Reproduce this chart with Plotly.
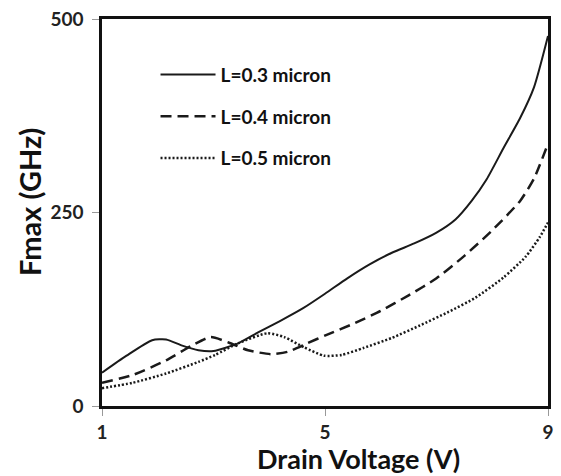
import plotly.graph_objects as go

# Data
voltage_03 = [1.0, 1.44, 1.9, 2.15, 2.44, 2.73, 3.0, 3.44, 3.8, 4.2, 4.6, 5.0, 5.4, 5.8, 6.2, 6.6, 7.0, 7.34, 7.63, 7.9, 8.2, 8.5, 8.75, 9.0]
fmax_03 = [43, 65, 85, 86, 78, 72, 71, 81, 95, 110, 126, 145, 165, 183, 198, 210, 224, 241, 265, 293, 333, 372, 412, 478]

voltage_04 = [1.0, 1.55, 2.15, 2.61, 2.95, 3.27, 3.62, 4.03, 4.33, 4.68, 5.03, 5.5, 6.0, 6.5, 7.0, 7.5, 8.0, 8.5, 8.75, 9.0]
fmax_04 = [30, 40, 59, 78, 89, 82, 72, 67, 70, 81, 92, 106, 123, 143, 165, 194, 227, 265, 294, 339]

voltage_05 = [1.0, 1.55, 2.15, 2.73, 3.03, 3.44, 3.97, 4.27, 4.62, 4.98, 5.3, 5.69, 6.2, 6.7, 7.2, 7.7, 8.2, 8.6, 8.85, 9.0]
fmax_05 = [23, 30, 42, 57, 66, 81, 94, 89, 76, 65, 66, 75, 88, 104, 121, 140, 166, 193, 218, 237]

labels = ["L=0.3 micron", "L=0.4 micron", "L=0.5 micron"]
x_ticks = [1, 5, 9]
y_ticks = [0, 250, 500]

FONT = "Lato, 'Open Sans', sans-serif"
INK = "#1a1a1a"

fig = go.Figure()
fig.add_trace(go.Scatter(x=voltage_03, y=fmax_03, mode="lines", name=labels[0], legendgroup="a",
                         line=dict(color=INK, width=2, shape="spline", smoothing=0.6)))
fig.add_trace(go.Scatter(x=voltage_04, y=fmax_04, mode="lines", name=labels[1], legendgroup="b",
                         line=dict(color=INK, width=2.5, dash="11px,6px", shape="spline", smoothing=0.6)))
fig.add_trace(go.Scatter(x=voltage_05, y=fmax_05, mode="lines", name=labels[2], legendgroup="c",
                         line=dict(color=INK, width=2.5, dash="2px,2px", shape="spline", smoothing=0.6)))

tickfont = dict(family=FONT, size=19, color="#222", weight="bold")

fig.update_layout(
    width=561, height=476,
    margin=dict(l=102, r=7, t=17, b=70),
    paper_bgcolor="white", plot_bgcolor="white",
    showlegend=True,
    legend=dict(x=0.12, y=0.905, xanchor="left", yanchor="top", bgcolor="rgba(0,0,0,0)",
                traceorder="grouped", tracegroupgap=14, itemwidth=55,
                font=dict(family=FONT, size=19, color="#111", weight="bold")),
    xaxis=dict(range=[1, 9], tickvals=x_ticks, ticktext=[str(v) for v in x_ticks],
               showgrid=False, zeroline=False, showline=True, linecolor="#111", linewidth=2.5, mirror=True,
               ticks="outside", ticklen=7, tickcolor="#999", tickwidth=1, tickfont=tickfont),
    yaxis=dict(range=[0, 500], tickvals=y_ticks, ticktext=[str(v) for v in y_ticks],
               showgrid=False, zeroline=False, showline=True, linecolor="#111", linewidth=2.5, mirror=True,
               ticks="outside", ticklen=7, tickcolor="#999", tickwidth=1, tickfont=tickfont,
               ticklabelstandoff=5),
    annotations=[
        dict(text="<b>Drain Voltage (V)</b>", xref="paper", yref="paper", x=0.575, y=-0.135,
             xanchor="center", yanchor="middle", showarrow=False,
             font=dict(family=FONT, size=27, color="#111")),
        dict(text="<b>Fmax (GHz)</b>", xref="paper", yref="paper", x=-0.164, y=0.527,
             xanchor="center", yanchor="middle", showarrow=False, textangle=-90,
             font=dict(family=FONT, size=29, color="#111")),
    ],
)

fig.write_html("out.html")
